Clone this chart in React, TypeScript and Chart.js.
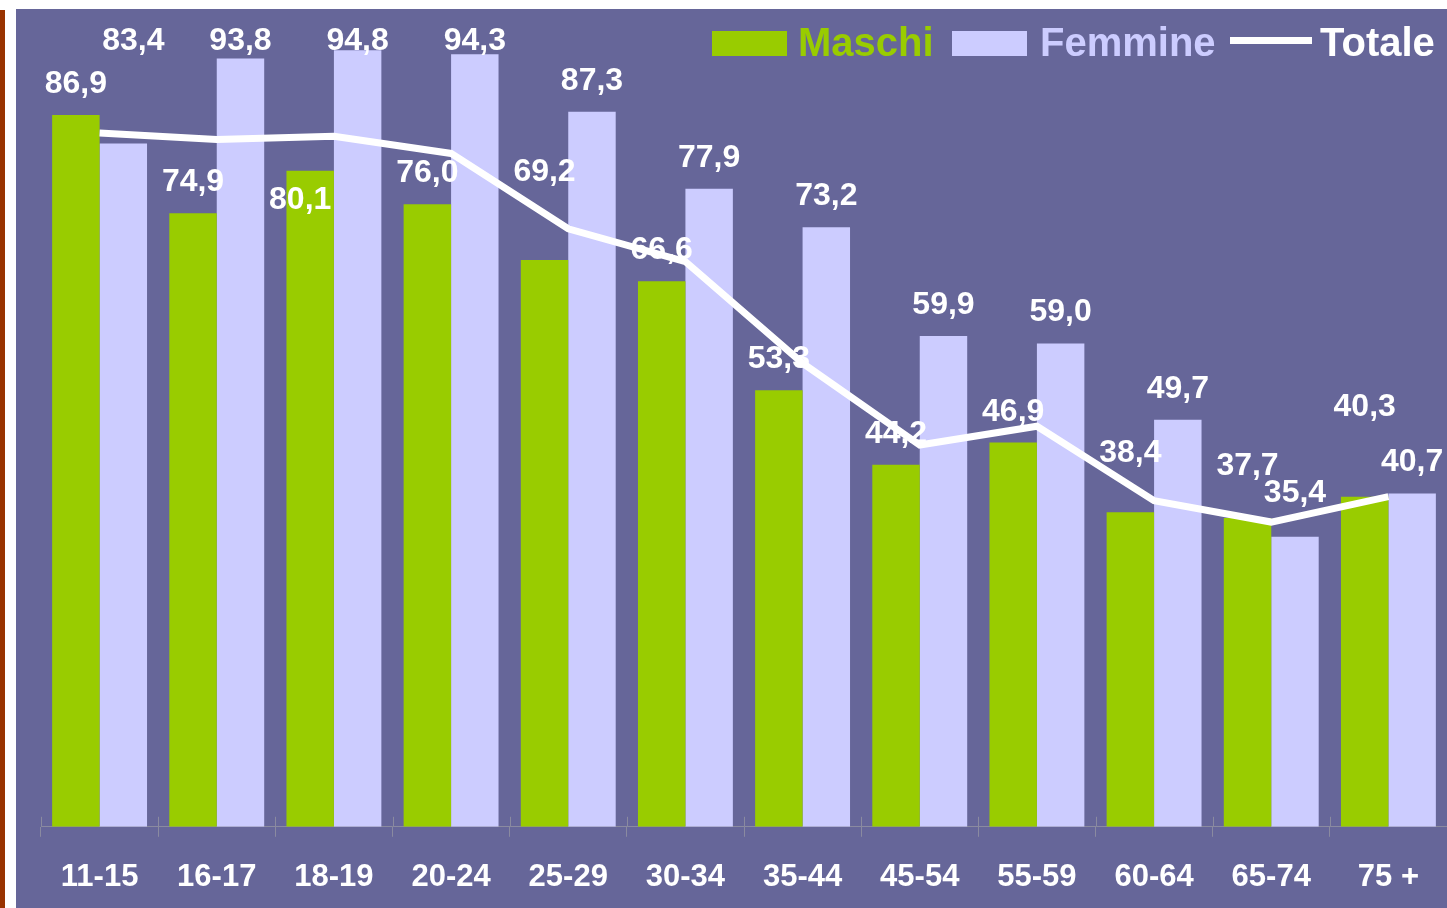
import React, { useEffect, useRef } from "react";
import { Chart, registerables } from "chart.js";

Chart.register(...registerables);

const categories = ["11-15", "16-17", "18-19", "20-24", "25-29", "30-34", "35-44", "45-54", "55-59", "60-64", "65-74", "75 +"];
const maschi = [86.9, 74.9, 80.1, 76.0, 69.2, 66.6, 53.3, 44.2, 46.9, 38.4, 37.7, 40.3];
const femmine = [83.4, 93.8, 94.8, 94.3, 87.3, 77.9, 73.2, 59.9, 59.0, 49.7, 35.4, 40.7];
const totale = [84.7, 83.9, 84.3, 82.2, 73.0, 69.0, 56.6, 46.6, 48.9, 39.8, 37.2, 40.3];

const BG = "#666699";
const GREEN = "#99CC00";
const LAVENDER = "#CCCCFF";
const WHITE = "#FFFFFF";
const FONT = "'Liberation Sans', Arial, sans-serif";

// manual label nudges (dx, extra lift in px), as in the original hand-placed labels
const labelNudges: Record<string, Record<number, [number, number]>> = {
  Maschi: { 2: [-10, -60], 4: [0, 57], 9: [0, 28], 10: [0, 21], 11: [0, 59] },
  Femmine: { 0: [10, 74], 10: [0, 13] },
};

const fmt = (v: number) => v.toFixed(1).replace(".", ",");

const bgPlugin = {
  id: "bgFill",
  beforeDraw(chart: any) {
    const { ctx, width, height } = chart;
    ctx.save();
    ctx.fillStyle = BG;
    ctx.fillRect(0, 0, width, height);
    ctx.restore();
  },
};

const labelPlugin = {
  id: "barLabels",
  afterDatasetDraw(chart: any, args: any) {
    const ds = chart.data.datasets[args.index];
    if (ds.type === "line") return;
    const meta = args.meta;
    const { ctx, chartArea } = chart;
    const nudges = labelNudges[ds.label] || {};
    ctx.save();
    ctx.font = `bold 32px ${FONT}`;
    ctx.fillStyle = WHITE;
    ctx.textAlign = "center";
    ctx.textBaseline = "alphabetic";
    meta.data.forEach((el: any, i: number) => {
      const v = ds.data[i];
      const [dx, lift] = nudges[i] || [0, 0];
      let yb = el.y - 22 - lift;
      const minY = chartArea.top + 26;
      if (yb < minY) yb = minY;
      ctx.fillText(fmt(v), el.x + dx, yb);
    });
    ctx.restore();
  },
};

const tickPlugin = {
  id: "crossTicks",
  afterDraw(chart: any) {
    const x = chart.scales.x;
    const { ctx } = chart;
    const n = chart.data.labels.length;
    const bottom = chart.chartArea.bottom;
    ctx.save();
    ctx.strokeStyle = "#8a8aa0";
    ctx.lineWidth = 1;
    for (let i = 0; i <= n; i++) {
      const px = Math.round(x.getPixelForValue(i - 0.5)) + 0.5;
      ctx.beginPath();
      ctx.moveTo(px, bottom - 10);
      ctx.lineTo(px, bottom);
      ctx.stroke();
    }
    ctx.restore();
  },
};

const legendPlugin = {
  id: "customLegend",
  afterDraw(chart: any) {
    const { ctx } = chart;
    ctx.save();
    ctx.font = `bold 40px ${FONT}`;
    ctx.textBaseline = "alphabetic";
    ctx.textAlign = "left";
    const boxTop = 22;
    const boxH = 25;
    const baseline = 47;
    ctx.fillStyle = GREEN;
    ctx.fillRect(696, boxTop, 75, boxH);
    ctx.fillText("Maschi", 782, baseline);
    ctx.fillStyle = LAVENDER;
    ctx.fillRect(936, boxTop, 75, boxH);
    ctx.fillText("Femmine", 1024, baseline);
    ctx.fillStyle = WHITE;
    ctx.fillRect(1214, boxTop + 6, 82, 7);
    ctx.fillText("Totale", 1304, baseline);
    ctx.restore();
  },
};

export default function App() {
  const canvasRef = useRef<HTMLCanvasElement | null>(null);

  useEffect(() => {
    if (!canvasRef.current) return;
    Chart.defaults.font.family = FONT;
    const chart = new Chart(canvasRef.current, {
      type: "bar",
      data: {
        labels: categories,
        datasets: [
          {
            type: "line",
            label: "Totale",
            data: totale,
            borderColor: WHITE,
            backgroundColor: WHITE,
            borderWidth: 7,
            pointRadius: 0,
            tension: 0,
            order: 0,
          } as any,
          {
            type: "bar",
            label: "Maschi",
            data: maschi,
            backgroundColor: GREEN,
            borderWidth: 0,
            categoryPercentage: 0.81,
            barPercentage: 1,
            order: 1,
          },
          {
            type: "bar",
            label: "Femmine",
            data: femmine,
            backgroundColor: LAVENDER,
            borderWidth: 0,
            categoryPercentage: 0.81,
            barPercentage: 1,
            order: 2,
          },
        ],
      },
      options: {
        animation: false,
        responsive: true,
        maintainAspectRatio: false,
        layout: { padding: { left: 25, top: 15, right: 0, bottom: 0 } },
        plugins: {
          legend: { display: false },
          tooltip: { enabled: false },
        },
        scales: {
          x: {
            offset: true,
            grid: {
              display: true,
              drawOnChartArea: false,
              drawTicks: true,
              tickLength: 10,
              color: "#8a8aa0",
              offset: true,
            },
            border: { display: true, color: "#8a8aa0", width: 1 },
            ticks: {
              color: WHITE,
              font: { family: FONT, size: 31, weight: "bold" },
              padding: 22,
              maxRotation: 0,
              autoSkip: false,
            },
          },
          y: {
            display: false,
            min: 0,
            max: 98,
          },
        },
      },
      plugins: [bgPlugin, labelPlugin, tickPlugin, legendPlugin],
    });
    return () => chart.destroy();
  }, []);

  return (
    <div style={{ position: "absolute", left: 0, top: 0, width: 1447, height: 908, background: "#FFFFFF", overflow: "hidden" }}>
      <div style={{ position: "absolute", left: 0, top: 10, width: 5, height: 898, background: "#993300" }} />
      <div style={{ position: "absolute", left: 16, top: 9, width: 1431, height: 909 }}>
        <canvas ref={canvasRef} />
      </div>
    </div>
  );
}
